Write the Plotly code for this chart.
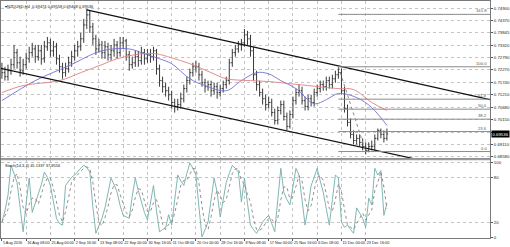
import plotly.graph_objects as go
from plotly.subplots import make_subplots

# ---------------- data ----------------
bars = list(range(128))

open_ = [0.7232, 0.7215, 0.7198, 0.7223, 0.7249, 0.7300, 0.7257, 0.7223, 0.7249, 0.7274,
         0.7300, 0.7316, 0.7283, 0.7308, 0.7274, 0.7325, 0.7342, 0.7308, 0.7325, 0.7274,
         0.7240, 0.7215, 0.7232, 0.7257, 0.7283, 0.7308, 0.7325, 0.7359, 0.7418, 0.7461,
         0.7410, 0.7359, 0.7316, 0.7333, 0.7300, 0.7325, 0.7291, 0.7308, 0.7333, 0.7300,
         0.7342, 0.7350, 0.7291, 0.7249, 0.7257, 0.7283, 0.7266, 0.7300, 0.7274, 0.7291,
         0.7283, 0.7308, 0.7232, 0.7181, 0.7155, 0.7138, 0.7121, 0.7088, 0.7071, 0.7079,
         0.7104, 0.7147, 0.7181, 0.7215, 0.7240, 0.7240, 0.7206, 0.7172, 0.7155, 0.7164,
         0.7138, 0.7155, 0.7130, 0.7147, 0.7164, 0.7181, 0.7257, 0.7300, 0.7316, 0.7333,
         0.7342, 0.7376, 0.7359, 0.7308, 0.7206, 0.7164, 0.7130, 0.7104, 0.7079, 0.7088,
         0.7045, 0.7011, 0.7054, 0.7079, 0.7028, 0.6986, 0.7037, 0.7096, 0.7130, 0.7138,
         0.7096, 0.7071, 0.7104, 0.7088, 0.7130, 0.7147, 0.7164, 0.7155, 0.7181, 0.7164,
         0.7189, 0.7206, 0.7215, 0.7138, 0.7062, 0.7003, 0.6952, 0.6926, 0.6935, 0.6918,
         0.6901, 0.6884, 0.6901, 0.6901, 0.6935, 0.6969, 0.6952, 0.6935]

high = [0.7257, 0.7240, 0.7249, 0.7274, 0.7333, 0.7316, 0.7283, 0.7274, 0.7300, 0.7325,
        0.7342, 0.7333, 0.7333, 0.7333, 0.7350, 0.7367, 0.7359, 0.7350, 0.7342, 0.7291,
        0.7257, 0.7257, 0.7283, 0.7308, 0.7333, 0.7350, 0.7384, 0.7444, 0.7486, 0.7478,
        0.7427, 0.7376, 0.7359, 0.7350, 0.7350, 0.7342, 0.7333, 0.7359, 0.7350, 0.7367,
        0.7367, 0.7359, 0.7308, 0.7283, 0.7308, 0.7308, 0.7325, 0.7316, 0.7316, 0.7316,
        0.7325, 0.7316, 0.7249, 0.7198, 0.7172, 0.7155, 0.7138, 0.7104, 0.7104, 0.7130,
        0.7164, 0.7198, 0.7232, 0.7257, 0.7266, 0.7257, 0.7223, 0.7189, 0.7181, 0.7181,
        0.7172, 0.7172, 0.7164, 0.7181, 0.7198, 0.7274, 0.7316, 0.7333, 0.7350, 0.7359,
        0.7401, 0.7393, 0.7376, 0.7325, 0.7223, 0.7181, 0.7147, 0.7121, 0.7113, 0.7104,
        0.7062, 0.7071, 0.7096, 0.7096, 0.7045, 0.7054, 0.7113, 0.7147, 0.7164, 0.7155,
        0.7113, 0.7121, 0.7121, 0.7147, 0.7164, 0.7181, 0.7181, 0.7198, 0.7198, 0.7206,
        0.7223, 0.7240, 0.7232, 0.7155, 0.7079, 0.7020, 0.6969, 0.6952, 0.6952, 0.6935,
        0.6918, 0.6918, 0.6926, 0.6952, 0.6977, 0.6977, 0.6969, 0.6977]

low = [0.7189, 0.7181, 0.7181, 0.7206, 0.7232, 0.7232, 0.7198, 0.7206, 0.7232, 0.7257,
       0.7283, 0.7257, 0.7266, 0.7249, 0.7257, 0.7308, 0.7283, 0.7283, 0.7249, 0.7215,
       0.7189, 0.7198, 0.7215, 0.7240, 0.7266, 0.7283, 0.7308, 0.7342, 0.7401, 0.7384,
       0.7333, 0.7291, 0.7300, 0.7274, 0.7274, 0.7266, 0.7266, 0.7283, 0.7274, 0.7283,
       0.7316, 0.7266, 0.7223, 0.7232, 0.7240, 0.7240, 0.7249, 0.7249, 0.7257, 0.7257,
       0.7266, 0.7206, 0.7155, 0.7130, 0.7113, 0.7096, 0.7062, 0.7045, 0.7054, 0.7062,
       0.7088, 0.7130, 0.7164, 0.7198, 0.7215, 0.7181, 0.7155, 0.7130, 0.7138, 0.7113,
       0.7121, 0.7104, 0.7113, 0.7130, 0.7147, 0.7164, 0.7240, 0.7283, 0.7300, 0.7308,
       0.7325, 0.7333, 0.7283, 0.7181, 0.7138, 0.7113, 0.7079, 0.7054, 0.7062, 0.7028,
       0.6994, 0.6994, 0.7037, 0.7011, 0.6969, 0.6977, 0.7020, 0.7079, 0.7113, 0.7079,
       0.7054, 0.7054, 0.7071, 0.7071, 0.7113, 0.7130, 0.7138, 0.7138, 0.7147, 0.7147,
       0.7172, 0.7189, 0.7121, 0.7045, 0.6986, 0.6935, 0.6909, 0.6909, 0.6901, 0.6884,
       0.6867, 0.6876, 0.6884, 0.6884, 0.6926, 0.6935, 0.6918, 0.6926]

close = [0.7215, 0.7198, 0.7223, 0.7249, 0.7300, 0.7257, 0.7223, 0.7249, 0.7274, 0.7300,
         0.7316, 0.7283, 0.7308, 0.7274, 0.7325, 0.7342, 0.7308, 0.7325, 0.7274, 0.7240,
         0.7215, 0.7232, 0.7257, 0.7283, 0.7308, 0.7325, 0.7359, 0.7418, 0.7461, 0.7410,
         0.7359, 0.7316, 0.7333, 0.7300, 0.7325, 0.7291, 0.7308, 0.7333, 0.7300, 0.7342,
         0.7350, 0.7291, 0.7249, 0.7257, 0.7283, 0.7266, 0.7300, 0.7274, 0.7291, 0.7283,
         0.7308, 0.7232, 0.7181, 0.7155, 0.7138, 0.7121, 0.7088, 0.7071, 0.7079, 0.7104,
         0.7147, 0.7181, 0.7215, 0.7240, 0.7240, 0.7206, 0.7172, 0.7155, 0.7164, 0.7138,
         0.7155, 0.7130, 0.7147, 0.7164, 0.7181, 0.7257, 0.7300, 0.7316, 0.7333, 0.7342,
         0.7376, 0.7359, 0.7308, 0.7206, 0.7164, 0.7130, 0.7104, 0.7079, 0.7088, 0.7045,
         0.7011, 0.7054, 0.7079, 0.7028, 0.6986, 0.7037, 0.7096, 0.7130, 0.7138, 0.7096,
         0.7071, 0.7104, 0.7088, 0.7130, 0.7147, 0.7164, 0.7155, 0.7181, 0.7164, 0.7189,
         0.7206, 0.7215, 0.7138, 0.7062, 0.7003, 0.6952, 0.6926, 0.6935, 0.6918, 0.6901,
         0.6884, 0.6901, 0.6901, 0.6935, 0.6969, 0.6952, 0.6935, 0.6954]

ma_fast_x = [0, 11, 22, 33, 42, 47, 52, 56, 62, 67, 74, 79, 84, 88, 92, 97, 103, 107, 111, 117, 122, 127]
ma_fast = [0.7096, 0.7181, 0.7244, 0.7308, 0.7316, 0.7295, 0.7274, 0.7253, 0.7189, 0.7160, 0.7138,
           0.7181, 0.7215, 0.7210, 0.7181, 0.7147, 0.7083, 0.7100, 0.7126, 0.7109, 0.7066, 0.6990]

ma_slow_x = [0, 7, 19, 26, 33, 38, 46, 51, 56, 62, 69, 74, 82, 88, 95, 111, 116, 122, 127]
ma_slow = [0.7130, 0.7160, 0.7181, 0.7215, 0.7249, 0.7274, 0.7295, 0.7295, 0.7278, 0.7253, 0.7215,
           0.7189, 0.7181, 0.7177, 0.7168, 0.7147, 0.7143, 0.7088, 0.7054]

stoch_main = [20, 35, 56, 96, 85, 73, 40, 7, 45, 79, 33, 45, 55, 70, 87, 80, 69, 45, 25, 18,
              16, 69, 74, 80, 83, 88, 92, 96, 93, 87, 40, 5, 15, 25, 39, 60, 79, 70, 60, 42,
              29, 27, 25, 55, 79, 62, 47, 33, 23, 45, 69, 35, 7, 10, 12, 30, 16, 50, 83, 75,
              69, 85, 99, 92, 83, 40, 0, 10, 20, 50, 79, 60, 27, 50, 73, 85, 96, 92, 87, 47,
              79, 45, 16, 10, 5, 12, 20, 25, 29, 18, 7, 50, 92, 60, 50, 43, 70, 92, 83, 50,
              16, 40, 69, 80, 92, 75, 60, 38, 16, 50, 83, 79, 20, 13, 16, 10, 5, 39, 32, 25,
              13, 52, 43, 92, 83, 89, 29, 45]
stoch_signal = [20, 28, 37, 62, 79, 85, 66, 40, 31, 44, 52, 52, 44, 57, 71, 79, 79, 65, 46, 29,
                20, 34, 53, 74, 79, 84, 88, 92, 94, 92, 73, 44, 20, 15, 26, 41, 59, 70, 70, 57,
                44, 33, 27, 36, 53, 65, 63, 47, 34, 34, 46, 50, 37, 17, 10, 17, 19, 32, 50, 69,
                76, 76, 84, 92, 91, 72, 41, 17, 10, 27, 50, 63, 55, 46, 50, 69, 85, 91, 92, 75,
                71, 57, 47, 24, 10, 9, 12, 19, 25, 24, 18, 25, 50, 67, 67, 51, 54, 68, 82, 75,
                50, 35, 42, 63, 80, 82, 76, 58, 38, 35, 50, 71, 61, 37, 16, 13, 10, 18, 25, 32,
                23, 30, 36, 62, 73, 88, 67, 38]

upper_line_x = [28, 161]
upper_line_y = [0.7482, 0.7100]
lower_line_x = [-1, 140]
lower_line_y = [0.7235, 0.6837]

fib_start = 111
fib_end = 120
fib_high = 0.7240
fib_low = 0.6879
fib_levels = [0.0, 23.6, 38.2, 50.0, 61.8, 100.0, 161.8]

tick_pos = [0, 8, 16, 24, 32, 40, 48, 56, 64, 72, 80, 88, 96, 104, 112, 120]
tick_labels = ["5 Aug 2016", "16 Aug 08:00", "25 Aug 00:00", "2 Sep 16:00", "13 Sep 08:00",
               "22 Sep 00:00", "30 Sep 16:00", "11 Oct 08:00", "20 Oct 00:00", "28 Oct 16:00",
               "8 Nov 08:00", "17 Nov 00:00", "25 Nov 16:00", "6 Dec 08:00", "15 Dec 00:00",
               "23 Dec 16:00"]
price_ticks = [0.74900, 0.74370, 0.73845, 0.73320, 0.72790, 0.72270, 0.71740, 0.71210,
               0.70680, 0.70150, 0.69620, 0.69110, 0.68580]
stoch_ticks = [0, 20, 80, 100]

title_text = "NZDUSD,H4  0.69474 0.69558 0.69468 0.69536"
stoch_text = "Stoch(14,3,3) 45.1337 37.8556"
last_price = 0.69536

# ---------------- figure ----------------
FONT = "Liberation Sans, Arial, sans-serif"
X_RANGE = [-0.3, 161.0]
fig = make_subplots(rows=2, cols=1, shared_xaxes=True)

fig.add_trace(go.Ohlc(x=bars, open=open_, high=high, low=low, close=close,
                      increasing_line_color="#3a3a3a", decreasing_line_color="#3a3a3a",
                      line_width=1, tickwidth=0.4, showlegend=False, hoverinfo="skip"),
              row=1, col=1)

fig.add_trace(go.Scatter(x=ma_fast_x, y=ma_fast, mode="lines", line_shape="spline",
                         line=dict(color="#7070d0", width=0.9), showlegend=False), row=1, col=1)
fig.add_trace(go.Scatter(x=ma_slow_x, y=ma_slow, mode="lines", line_shape="spline",
                         line=dict(color="#e08080", width=0.9), showlegend=False), row=1, col=1)

fig.add_trace(go.Scatter(x=upper_line_x, y=upper_line_y, mode="lines",
                         line=dict(color="#111111", width=1.2), showlegend=False), row=1, col=1)
fig.add_trace(go.Scatter(x=lower_line_x, y=lower_line_y, mode="lines",
                         line=dict(color="#111111", width=1.2), showlegend=False), row=1, col=1)

fib_rng = fib_high - fib_low
for lv in fib_levels:
    p = fib_low + lv / 100.0 * fib_rng
    fig.add_trace(go.Scatter(x=[fib_start, X_RANGE[1]], y=[p, p], mode="lines",
                             line=dict(color="#8a8a8a", width=1), showlegend=False), row=1, col=1)
    fig.add_annotation(x=1, xref="x domain", y=p, yref="y", text=f"{lv:.1f}",
                       xanchor="right", yanchor="bottom", showarrow=False, xshift=-1, yshift=-1,
                       font=dict(size=4.2, color="#555555", family=FONT))
fig.add_trace(go.Scatter(x=[fib_start, fib_end], y=[fib_high, fib_low], mode="lines",
                         line=dict(color="#888888", width=1, dash="dot"), showlegend=False),
              row=1, col=1)

fig.add_trace(go.Scatter(x=bars, y=stoch_main, mode="lines",
                         line=dict(color="#72aeaa", width=0.9), showlegend=False), row=2, col=1)
fig.add_trace(go.Scatter(x=bars, y=stoch_signal, mode="lines",
                         line=dict(color="#8c8080", width=0.9, dash="dot"), showlegend=False),
              row=2, col=1)

axis_common = dict(showline=True, mirror=True, linecolor="#7a7a7a", linewidth=1,
                   showgrid=True, gridcolor="#c4c4c4", griddash="dot", gridwidth=1,
                   zeroline=False)

fig.update_xaxes(range=X_RANGE, tickvals=tick_pos, **axis_common)
fig.update_xaxes(row=1, col=1, showticklabels=False, ticks="", rangeslider_visible=False,
                 domain=[0, 1])
fig.update_xaxes(row=2, col=1, ticktext=tick_labels, showticklabels=True, ticks="outside",
                 ticklen=2, tickcolor="#555555", ticklabelposition="outside right",
                 tickangle=0, ticklabelstandoff=0,
                 tickfont=dict(size=3.8, color="#222222", family=FONT), domain=[0, 1])

price_labels = [("" if abs(v - 0.69620) < 1e-9 else f"{v:.5f}") for v in price_ticks]
fig.update_yaxes(row=1, col=1, side="right", range=[0.6850, 0.7520], tickvals=price_ticks,
                 ticktext=price_labels, ticks="outside", ticklen=2,
                 tickcolor="#555555", tickfont=dict(size=4.3, color="#222222", family=FONT),
                 domain=[0.336, 1.0], **axis_common)
fig.update_yaxes(row=2, col=1, side="right", range=[-1.3, 102.7], tickvals=stoch_ticks,
                 ticktext=[str(v) for v in stoch_ticks], ticks="outside", ticklen=2,
                 tickcolor="#555555", tickfont=dict(size=4.3, color="#222222", family=FONT),
                 domain=[0.0, 0.3277], **axis_common)

# separator between panels
fig.add_shape(type="rect", xref="paper", yref="paper", x0=0, x1=1, y0=0.3277, y1=0.336,
              fillcolor="#9a9a9a", line_width=0, layer="above")

fig.add_annotation(x=0.004, xref="paper", y=1, yref="paper", text="▾" + title_text,
                   xanchor="left", yanchor="top", showarrow=False, yshift=-1,
                   font=dict(size=4.0, color="#111111", family=FONT))
fig.add_annotation(x=0.004, xref="paper", y=0.3277, yref="paper", text=stoch_text,
                   xanchor="left", yanchor="top", showarrow=False, yshift=-1,
                   font=dict(size=4.0, color="#111111", family=FONT))
fig.add_annotation(x=1, xref="x domain", y=last_price, yref="y", text=f"{last_price:.5f}",
                   xanchor="left", yanchor="middle", showarrow=False, xshift=1,
                   bgcolor="#000000", borderpad=0.5,
                   font=dict(size=4.3, color="#ffffff", family=FONT))

fig.update_layout(width=510, height=247, margin=dict(l=1, r=18, t=0, b=9),
                  plot_bgcolor="#ffffff", paper_bgcolor="#ffffff", showlegend=False,
                  hovermode=False)

fig.write_html("out.html")
